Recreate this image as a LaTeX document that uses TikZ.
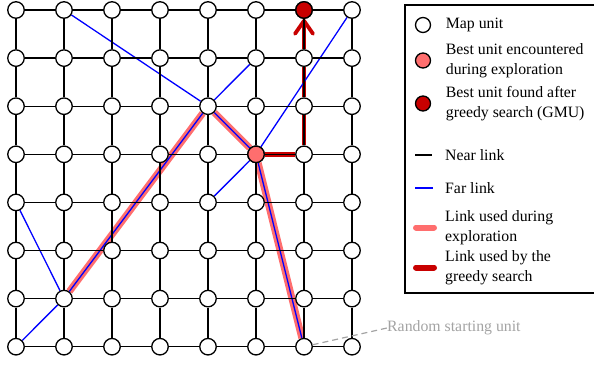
\documentclass[tikz,border=0pt]{standalone}
\usepackage{fontspec}
\setmainfont{Liberation Serif}
\usetikzlibrary{arrows.meta,positioning,backgrounds}
\definecolor{explore}{HTML}{FF6E6E}
\definecolor{greedy}{HTML}{C80000}
\definecolor{farblue}{HTML}{0000FF}
\definecolor{startgray}{HTML}{A3A3A3}

\begin{document}
\begin{tikzpicture}[x=1pt, y=-1pt, font=\fontsize{15.8}{19.5}\selectfont]
\tikzset{
  unit/.style={circle, draw=black, line width=1.3pt, fill=white, minimum size=16.5pt, inner sep=0pt},
  near/.style={draw=black, line width=1.4pt},
  far/.style={draw=farblue, line width=1.3pt},
  explored/.style={draw=explore, line width=7pt},
  greedypath/.style={draw=greedy, line width=4.5pt},
  legtext/.style={anchor=west, align=left, inner sep=0pt},
}
\useasboundingbox (0,0) rectangle (594,364);

% map units
\foreach \i in {0,...,7}
  \foreach \j in {0,...,7}
    \node[unit] (u\i\j) at ({16+48*\i},{10+48.1*\j}) {};
\node[unit, fill=explore] (best) at (u53.center) {};
\node[unit, fill=greedy] (gmu) at (u60.center) {};

\begin{scope}[on background layer]
% exploration
\draw[explored] (u16) -- (u42);
\draw[explored] (u42) -- (u53);
\draw[explored] (u53) -- (u67);
% greedy search
\draw[greedypath] (u53) -- (u63);
\draw[greedypath] (u63) -- (u62);
\draw[greedypath] (u62) -- (u61);
\draw[greedypath, -{Straight Barb[length=13pt, width=18pt, round, line width=3.8pt]}] (u61) -- (u60);
% far links
\draw[far] (u10) -- (u42);
\draw[far] (u42) -- (u51);
\draw[far] (u16) -- (u42);
\draw[far] (u42) -- (u53);
\draw[far] (u70) -- (u53);
\draw[far] (u53) -- (u44);
\draw[far] (u53) -- (u67);
\draw[far] (u04) -- (u16);
\draw[far] (u07) -- (u16);
% near links
\foreach \i [count=\k] in {0,...,6}
  \foreach \j in {0,...,7} {
    \draw[near] (u\i\j) -- (u\k\j);
    \draw[near] (u\j\i) -- (u\j\k);
  }
\end{scope}

% start
\node[text=startgray, anchor=west, inner sep=0pt] (rsu) at (387,328) {Random starting unit};
\draw[startgray, line width=1.2pt, dash pattern=on 6pt off 4pt] (u67) -- (rsu.west);

% legend
\draw[line width=1.8pt] (405,5) rectangle (610,293);
\node[unit, minimum size=15pt] (lmap) at (423,25) {};
\node[legtext, right=14.5pt of lmap] {Map unit};
\node[unit, minimum size=15pt, fill=explore] (lbest) at (423,60.5) {};
\node[legtext, right=14.5pt of lbest] {Best unit encountered\\during exploration};
\node[unit, minimum size=15pt, fill=greedy] (lgmu) at (423,103.5) {};
\node[legtext, right=14.5pt of lgmu] {Best unit found after\\greedy search (GMU)};
\coordinate (lnear) at (415,155);
\draw[near] (lnear) -- ++(17,0) coordinate (lnearend);
\node[legtext, right=13pt of lnearend] {Near link};
\coordinate (lfar) at (415,188);
\draw[far] (lfar) -- ++(18,0) coordinate (lfarend);
\node[legtext, right=12pt of lfarend] {Far link};
\coordinate (lexp) at (416,227.5);
\draw[draw=explore, line width=6pt, line cap=round] (lexp) -- ++(18,0) coordinate (lexpend);
\node[legtext, right=11pt of lexpend] {Link used during\\exploration};
\coordinate (lgre) at (416,267.5);
\draw[draw=greedy, line width=6pt, line cap=round] (lgre) -- ++(18,0) coordinate (lgreend);
\node[legtext, right=11pt of lgreend] {Link used by the\\greedy search};
\end{tikzpicture}
\end{document}
